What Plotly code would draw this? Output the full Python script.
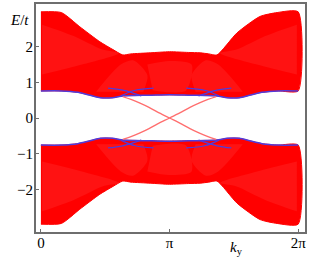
import plotly.graph_objects as go
import math

PI = math.pi

# Upper band envelopes
k_env = [0.0, 0.5, 0.95, 1.44, 1.76, 2.0, 2.2, 2.67, PI, 3.6, 3.89, 4.1, 4.3, 4.79, 5.35, 5.77, 2*PI]
up_top = [2.98, 2.96, 2.56, 2.14, 1.92, 1.77, 1.80, 1.83, 1.86, 1.84, 1.83, 1.80, 1.77, 2.39, 2.85, 2.96, 2.98]

k_edge = [0.0, 0.5, 0.9, 1.2, 1.45, 1.75, 2.0, 2.3, 2.7, PI, 3.6, 4.0, 4.3, 4.55, 4.85, 5.1, 5.4, 5.8, 2*PI]
up_bot = [0.76, 0.76, 0.72, 0.64, 0.57, 0.57, 0.62, 0.63, 0.64, 0.65, 0.64, 0.63, 0.62, 0.57, 0.57, 0.64, 0.72, 0.76, 0.76]

# Lower band envelopes
lo_bot = [-2.98, -2.96, -2.56, -2.14, -1.92, -1.77, -1.80, -1.83, -1.86, -1.84, -1.83, -1.80, -1.77, -2.39, -2.85, -2.96, -2.98]
lo_top = [-0.76, -0.76, -0.72, -0.64, -0.57, -0.57, -0.62, -0.63, -0.64, -0.65, -0.64, -0.63, -0.62, -0.57, -0.57, -0.64, -0.72, -0.76, -0.76]

# Sparser (lighter) regions inside the bulk bands
sparse_up_left_k = [0.03, 0.8, 1.5, 1.9, 1.0, 0.03]
sparse_up_left_e = [2.62, 2.3, 1.92, 1.82, 1.5, 1.22]
sparse_up_right_k = [6.25, 5.48, 4.78, 4.38, 5.28, 6.25]
sparse_up_mid_k = [1.35, 1.95, 2.25, 2.6, 2.5]
sparse_up_mid_e = [0.74, 1.5, 1.62, 1.2, 0.74]
sparse_up_mid2_k = [4.93, 4.33, 4.03, 3.68, 3.78]
sparse_up_ctr_k = [2.6, PI, 3.68, 3.55, PI, 2.73]
sparse_up_ctr_e = [1.5, 1.6, 1.5, 0.78, 0.72, 0.78]

sparse_lo_left_e = [-2.62, -2.3, -1.92, -1.82, -1.5, -1.22]
sparse_lo_mid_e = [-0.74, -1.5, -1.62, -1.2, -0.74]
sparse_lo_ctr_e = [-1.5, -1.6, -1.5, -0.78, -0.72, -0.78]

# Edge states crossing at k = pi
k_state = [2.0, 2.2, 2.42, 2.64, 2.84, PI, 3.44, 3.64, 3.86, 4.08, 4.28]
state_a = [0.60, 0.52, 0.42, 0.30, 0.17, 0.0, -0.17, -0.30, -0.42, -0.52, -0.60]
state_b = [-0.60, -0.52, -0.42, -0.30, -0.17, 0.0, 0.17, 0.30, 0.42, 0.52, 0.60]

# Blue crossing segments near the band edges
k_seg_a_left = [1.64, 2.0, 2.45]
k_seg_b_left = [1.95, 2.3, 2.75]
k_seg_a_right = [3.55, 4.0, 4.35]
k_seg_b_right = [3.85, 4.3, 4.65]
e_seg_a_up = [0.84, 0.78, 0.62]
e_seg_b_up = [0.62, 0.78, 0.84]
e_seg_a_lo = [-0.84, -0.78, -0.62]
e_seg_b_lo = [-0.62, -0.78, -0.84]

x_ticks = [0, PI, 2*PI]
x_tick_text = ["0", "π", "2π"]
y_ticks = [-2, -1, 0, 1, 2]
y_tick_text = ["−2", "−1", "0", "1", "2"]

RED = "rgb(255,0,0)"
BLUE = "rgb(80,60,220)"
PINK = "rgb(255,110,110)"

fig = go.Figure()

def band(top, bot, k_top, k_bot):
    xs = list(k_top) + list(reversed(k_bot))
    ys = list(top) + list(reversed(bot))
    fig.add_trace(go.Scatter(x=xs, y=ys, fill="toself", fillcolor=RED, mode="lines",
                             line=dict(color=RED, width=1, shape="spline", smoothing=0.6),
                             hoverinfo="skip", showlegend=False))

def sparse(kx, ey):
    fig.add_trace(go.Scatter(x=kx, y=ey, fill="toself", mode="lines",
                             fillcolor="rgba(255,0,0,0)",
                             fillpattern=dict(shape="-", fgcolor="rgba(255,160,160,0.45)",
                                              bgcolor="rgba(255,0,0,0)", size=2, solidity=0.5),
                             line=dict(width=0, color="rgba(0,0,0,0)", shape="spline", smoothing=0.8),
                             hoverinfo="skip", showlegend=False))

band(up_top, up_bot, k_env, k_edge)
band(lo_top, lo_bot, k_edge, k_env)

sparse(sparse_up_left_k, sparse_up_left_e)
sparse(sparse_up_right_k, sparse_up_left_e)
sparse(sparse_up_mid_k, sparse_up_mid_e)
sparse(sparse_up_mid2_k, sparse_up_mid_e)
sparse(sparse_up_ctr_k, sparse_up_ctr_e)
sparse(sparse_up_left_k, sparse_lo_left_e)
sparse(sparse_up_right_k, sparse_lo_left_e)
sparse(sparse_up_mid_k, sparse_lo_mid_e)
sparse(sparse_up_mid2_k, sparse_lo_mid_e)
sparse(sparse_up_ctr_k, sparse_lo_ctr_e)

for ys in (up_bot, lo_top):
    fig.add_trace(go.Scatter(x=k_edge, y=ys, mode="lines",
                             line=dict(color=BLUE, width=1.5, shape="spline", smoothing=0.6),
                             showlegend=False, hoverinfo="skip"))

for ys in (state_a, state_b):
    fig.add_trace(go.Scatter(x=k_state, y=ys, mode="lines",
                             line=dict(color=PINK, width=1.3, shape="spline"),
                             showlegend=False, hoverinfo="skip"))

for kx, ys in ((k_seg_a_left, e_seg_a_up), (k_seg_b_left, e_seg_b_up),
               (k_seg_a_right, e_seg_a_up), (k_seg_b_right, e_seg_b_up),
               (k_seg_a_left, e_seg_a_lo), (k_seg_b_left, e_seg_b_lo),
               (k_seg_a_right, e_seg_a_lo), (k_seg_b_right, e_seg_b_lo)):
    fig.add_trace(go.Scatter(x=kx, y=ys, mode="lines",
                             line=dict(color=BLUE, width=1.2, shape="spline"),
                             showlegend=False, hoverinfo="skip"))

FONT = "Liberation Serif"
axis_common = dict(showgrid=False, zeroline=False, showline=True, mirror=True, automargin=False,
                   linecolor="rgb(110,110,110)", linewidth=2, ticks="inside", ticklen=3,
                   tickcolor="rgb(110,110,110)", tickfont=dict(family=FONT, size=15, color="black"))

fig.update_layout(
    width=309, height=259,
    margin=dict(l=36, r=4, t=4, b=27),
    plot_bgcolor="white", paper_bgcolor="white",
    xaxis=dict(range=[-0.12, 6.45], tickvals=x_ticks, ticktext=x_tick_text,
               ticklabelstandoff=-4, **axis_common),
    yaxis=dict(range=[-3.2, 3.2], tickvals=y_ticks, ticktext=y_tick_text,
               ticklabelstandoff=-2, **axis_common),
    annotations=[
        dict(text="<i>E</i>/<i>t</i>", xref="paper", yref="paper", x=-0.06, y=0.93,
             xanchor="center", yanchor="middle",
             showarrow=False, font=dict(family=FONT, size=15, color="black")),
        dict(text="<i>k</i><sub>y</sub>", xref="paper", yref="paper", x=0.747, y=-0.07,
             xanchor="center", yanchor="middle",
             showarrow=False, font=dict(family=FONT, size=15, color="black")),
    ],
)

fig.write_html("out.html", config={"displayModeBar": False},
               post_script="document.body.style.margin='0';")
